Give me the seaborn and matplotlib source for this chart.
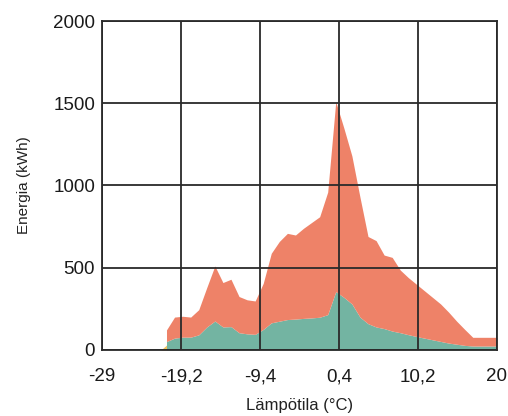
import numpy as np
import matplotlib
matplotlib.use("Agg")
import matplotlib.pyplot as plt
import seaborn as sns

temps = list(range(-21, 21))
total = [122, 200, 205, 200, 245, 380, 511, 410, 430, 325, 305, 298, 405, 588,
         660, 709, 699, 740, 775, 810, 960, 1510, 1350, 1180, 930, 690, 665, 577,
         563, 486, 440, 400, 360, 320, 280, 230, 175, 125, 77, 77, 77, 77]
green = [51, 72, 78, 78, 92, 140, 176, 140, 142, 105, 98, 95, 125, 165,
         175, 185, 188, 192, 195, 199, 215, 355, 320, 280, 200, 160, 140, 130,
         115, 105, 93, 82, 72, 62, 52, 42, 35, 28, 24, 24, 24, 24]
orange = [t - g for t, g in zip(total, green)]
yellow_x = [-21.7, -21.0]
yellow = [0, 30]

xticks = [-29, -19.2, -9.4, 0.4, 10.2, 20]
xticklabels = ["-29", "-19,2", "-9,4", "0,4", "10,2", "20"]
yticks = [0, 500, 1000, 1500, 2000]

sns.set_theme(style="white")
plt.rcParams['font.family'] = ['Liberation Sans', 'DejaVu Sans']

fig = plt.figure(figsize=(5.08, 4.16), dpi=100)
ax = fig.add_axes([0.2008, 0.1587, 0.7775, 0.7908])

ax.fill_between(yellow_x, 0, yellow, color="#F2C35E", lw=0)
ax.stackplot(temps, green, orange, colors=["#73B4A2", "#EE8268"], lw=0)

ax.set_xlim(-29, 20)
ax.set_ylim(0, 2000)
ax.set_xticks(xticks)
ax.set_xticklabels(xticklabels)
ax.set_yticks(yticks)
ax.grid(True, color="#2a2a2a", lw=1.3)
ax.set_axisbelow(False)
for s in ax.spines.values():
    s.set_color("#2a2a2a")
    s.set_linewidth(1.3)
ax.tick_params(axis='both', direction='inout', length=8, width=1.2, color="#2a2a2a",
               labelsize=13.5, labelcolor="#1a1a1a")
ax.tick_params(axis='y', pad=1)
ax.tick_params(axis='x', pad=9)
ax.set_xlabel("Lämpötila (°C)", fontsize=12, color="#222222", labelpad=9)
ax.set_ylabel("Energia (kWh)", fontsize=11, color="#222222", labelpad=16)

fig.savefig("out.png", dpi=100)
